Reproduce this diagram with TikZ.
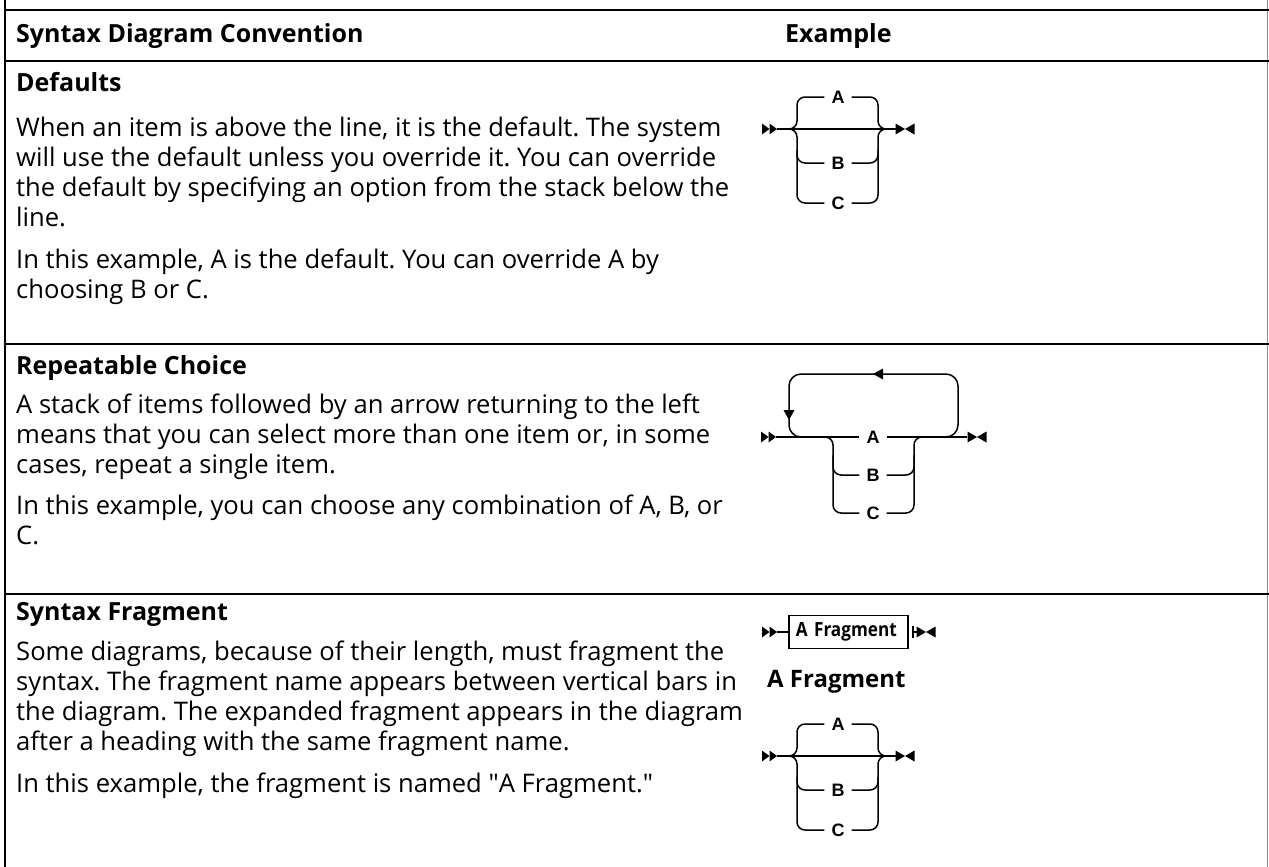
\documentclass[tikz,border=0pt]{standalone}
\usepackage{fontspec}
\setmainfont{Open Sans}
\newfontfamily\qfont{Open Sans}
\newfontfamily\boxfont{Open Sans}[FakeStretch=0.88]
\newfontfamily\diafont{Liberation Sans}
\frenchspacing
\newcommand\dblstart[2]{%
  \fill (#1,#2) -- ++(-7.5,-5.5) -- ++(0,11) -- cycle;
  \fill (#1-7.5,#2) -- ++(-7.5,-5.5) -- ++(0,11) -- cycle;}
\newcommand\bowend[2]{%
  \fill (#1,#2) -- ++(-9.5,-5.5) -- ++(0,11) -- cycle;
  \fill (#1,#2) -- ++(9.5,-5.5) -- ++(0,11) -- cycle;}
\newcommand\choicediag[2]{%
  \begin{scope}[shift={(0,#2)}]
    \node[lbl] (#1A) at (838,97) {A};
    \node[lbl] (#1B) at (838,163) {B};
    \node[lbl] (#1C) at (838,203) {C};
    \coordinate (#1s) at (777,129);
    \coordinate (#1e) at (886,129);
    \dblstart{777}{129}
    \draw[conn] (#1s) -- (#1e);
    \draw[conn] (783,129) -- (797,129) -- (797,97) -- (#1A.west);
    \draw[conn] (783,129) -- (797,129) -- (797,203) -- (#1C.west);
    \draw[conn] (797,150) -- (797,163) -- (#1B.west);
    \draw[conn] (#1A.east) -- (878,97) -- (878,129) -- (#1e);
    \draw[conn] (#1C.east) -- (878,203) -- (878,129) -- (#1e);
    \draw[conn] (#1B.east) -- (878,163) -- (878,150);
    \draw[conn] (#1e) -- (896,129);
    \bowend{905}{129}
  \end{scope}}
\begin{document}
\begin{tikzpicture}[x=1pt,y=-1pt,
  rule/.style={line width=2.2pt},
  conn/.style={line width=1.5pt, rounded corners=8pt},
  lbl/.style={font=\diafont\bfseries\fontsize{18}{18}\selectfont, inner xsep=7pt, inner ysep=2pt},
  body/.style={anchor=base west, inner sep=0pt, font=\fontsize{25.6}{30}\selectfont},
  head/.style={anchor=base west, inner sep=0pt, font=\bfseries\fontsize{25}{30}\selectfont},
]
\useasboundingbox (0,0) rectangle (1269,867);
\fill[white] (0,0) rectangle (1269,867);
% table rules
\draw[rule] (5,0) -- (5,867);
\draw[line width=1.6pt, black!45] (1267.5,0) -- (1267.5,867);
\foreach \yy in {10,61,344,594} \draw[rule] (4,\yy) -- (1269,\yy);

% header
\node[head] (h1) at (16,43) {Syntax Diagram Convention};
\node[head] (h2) at (785,43) {Example};

% Defaults row
\node[head] (t1) at (16,92) {Defaults};
\node[body] (t2) at (16,136) {When an item is above the line, it is the default. The system};
\node[body] (t3) at (16,166) {will use the default unless you override it. You can override};
\node[body] (t4) at (16,196) {the default by specifying an option from the stack below the};
\node[body] (t5) at (16,226) {line.};
\node[body] (t6) at (16,268) {In this example, A is the default. You can override A by};
\node[body] (t7) at (16,298) {choosing B or C.};

% Repeatable row
\node[head] (r1) at (16,374) {Repeatable Choice};
\node[body] (r2) at (16,413) {A stack of items followed by an arrow returning to the left};
\node[body] (r3) at (16,443) {means that you can select more than one item or, in some};
\node[body] (r4) at (16,473) {cases, repeat a single item.};
\node[body] (r5) at (16,514) {In this example, you can choose any combination of A, B, or};
\node[body] (r6) at (16,544) {C.};

% Fragment row
\node[head] (f1) at (16,620) {Syntax Fragment};
\node[body] (f2) at (16,660) {Some diagrams, because of their length, must fragment the};
\node[body] (f3) at (16,690) {syntax. The fragment name appears between vertical bars in};
\node[body] (f4) at (16,720) {the diagram. The expanded fragment appears in the diagram};
\node[body] (f5) at (16,750) {after a heading with the same fragment name.};
\node[body] (f6) at (16,792) {In this example, the fragment is named {\qfont"}A Fragment.{\qfont"}};

% Defaults example
\choicediag{d}{0}

% Repeatable example
\node[lbl] (rA) at (873,437) {A};
\node[lbl] (rB) at (873,475) {B};
\node[lbl] (rC) at (873,513) {C};
\coordinate (rs) at (776,437);
\coordinate (re) at (967,437);
\dblstart{776}{437}
\draw[conn] (rs) -- (rA.west);
\draw[conn] (rA.east) -- (re);
\draw[conn, rounded corners=12pt] (815,437) -- (789,437) -- (789,374) -- (958,374) -- (958,437) -- (935,437);
\fill (873,374) -- ++(10,-5.5) -- ++(0,11) -- cycle;
\fill (789,420) -- ++(-5.5,-10) -- ++(11,0) -- cycle;
\draw[conn] (818,437) -- (833,437) -- (833,513) -- (rC.west);
\draw[conn] (833,455) -- (833,475) -- (rB.west);
\draw[conn] (rC.east) -- (914,513) -- (914,437) -- (929,437);
\draw[conn] (rB.east) -- (914,475) -- (914,455);
\bowend{977}{437}

% Fragment example
\dblstart{777}{632}
\node[draw, line width=1.5pt, anchor=west, inner xsep=7pt, inner ysep=0pt,
      minimum height=33pt, text width=105pt, align=left,
      font=\boxfont\bfseries\fontsize{19.5}{19.5}\selectfont] (fr) at (788,632) {A Fragment};
\draw[conn] (777,632) -- (fr.west);
\coordinate (tk) at (913,632);
\draw[line width=1.5pt] (913,626) -- (913,638);
\draw[conn] (tk) -- (917,632);
\bowend{926}{632}
\node[head, font=\bfseries\fontsize{24}{28}\selectfont] (fh) at (767,687) {A Fragment};
\choicediag{g}{627}
\end{tikzpicture}
\end{document}
